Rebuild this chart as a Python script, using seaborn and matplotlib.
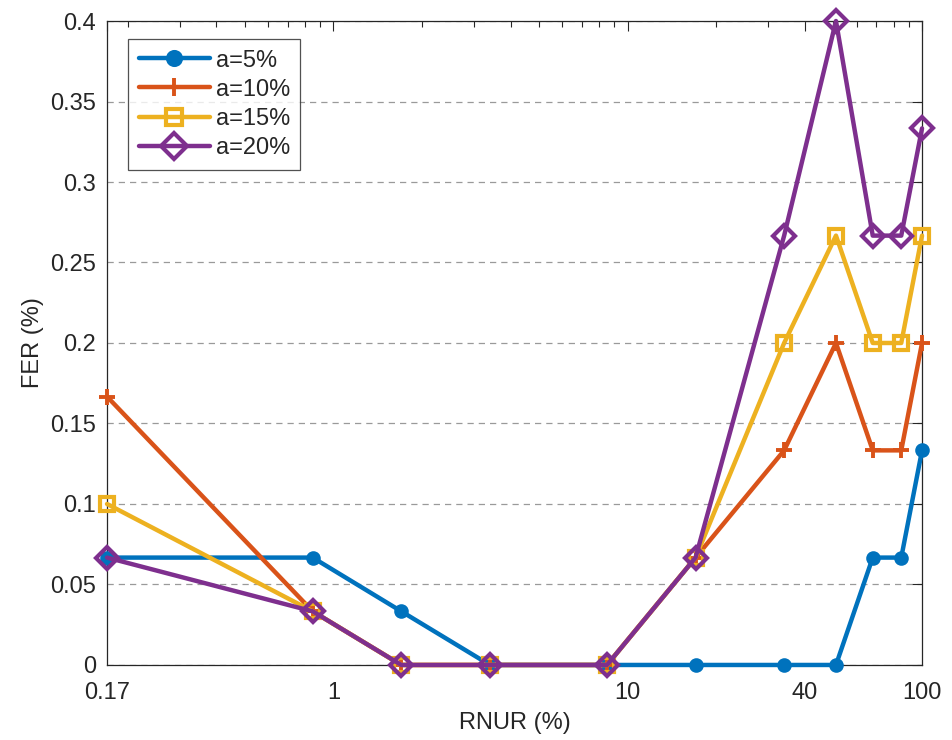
import numpy as np
import pandas as pd
import matplotlib
matplotlib.use("Agg")
import matplotlib.pyplot as plt
import seaborn as sns
from matplotlib.ticker import NullFormatter, FixedLocator

rnur = [0.17, 0.85, 1.7, 3.4, 8.5, 17, 34, 51, 68, 85, 100]
fer_a5 = [0.0667, 0.0667, 0.0333, 0, 0, 0, 0, 0, 0.0667, 0.0667, 0.1333]
fer_a10 = [0.1667, 0.0333, 0, 0, 0, 0.0667, 0.1333, 0.2, 0.1333, 0.1333, 0.2]
fer_a15 = [0.1, 0.0333, 0, 0, 0, 0.0667, 0.2, 0.2667, 0.2, 0.2, 0.2667]
fer_a20 = [0.0667, 0.0333, 0, 0, 0, 0.0667, 0.2667, 0.4, 0.2667, 0.2667, 0.3333]
labels = ["a=5%", "a=10%", "a=15%", "a=20%"]
xtick_vals = [0.17, 1, 10, 40, 100]
xtick_labels = ["0.17", "1", "10", "40", "100"]
ytick_vals = [0, 0.05, 0.1, 0.15, 0.2, 0.25, 0.3, 0.35, 0.4]
ytick_labels = ["0", "0.05", "0.1", "0.15", "0.2", "0.25", "0.3", "0.35", "0.4"]

sns.set_style("white")
plt.rcParams['font.family'] = ['Liberation Sans', 'DejaVu Sans']

colors = ["#0072BD", "#D95319", "#EDB120", "#7E2F8E"]
styles = [
    dict(marker='o', markersize=9, markerfacecolor=colors[0], markeredgewidth=1.5),
    dict(marker='+', markersize=11, markeredgewidth=2.8),
    dict(marker='s', markersize=10, markerfacecolor='none', markeredgewidth=3),
    dict(marker='D', markersize=11, markerfacecolor='none', markeredgewidth=3),
]

fig = plt.figure(figsize=(9.53, 7.4), dpi=100)
ax = fig.add_axes([0.1123, 0.1014, 0.8552, 0.8702])

for vals, lab, col, st in zip([fer_a5, fer_a10, fer_a15, fer_a20], labels, colors, styles):
    df = pd.DataFrame({"RNUR": rnur, "FER": vals})
    sns.lineplot(data=df, x="RNUR", y="FER", ax=ax, color=col, linewidth=3.2,
                 label=lab, markeredgecolor=col, clip_on=False, zorder=3, **st)

ax.set_xscale('log')
ax.set_xlim(0.17, 100)
ax.set_ylim(0, 0.4)
ax.xaxis.set_major_locator(FixedLocator(xtick_vals))
ax.set_xticklabels(xtick_labels)
ax.xaxis.set_minor_formatter(NullFormatter())
ax.set_yticks(ytick_vals)
ax.set_yticklabels(ytick_labels)

ax.tick_params(which='both', direction='in', top=True, right=True,
               labelsize=17, colors='#262626')
ax.tick_params(axis='x', pad=12)
ax.tick_params(axis='y', pad=8)
ax.tick_params(which='major', length=7, width=0.8)
ax.tick_params(which='minor', length=4, width=0.8)
ax.yaxis.grid(True, linestyle=(0, (5, 4)), color='#9a9a9a', linewidth=0.9)
ax.set_axisbelow(True)
for s in ax.spines.values():
    s.set_color('#262626')
    s.set_linewidth(0.9)

ax.set_xlabel("RNUR (%)", fontsize=17, color='#262626', labelpad=6)
ax.set_ylabel("FER (%)", fontsize=17, color='#262626', labelpad=4)

leg = ax.legend(loc='upper left', bbox_to_anchor=(0.026, 0.972), borderaxespad=0,
                fontsize=17, frameon=True, fancybox=False, edgecolor='#262626',
                handlelength=3.0, borderpad=0.45, labelspacing=0.3,
                handletextpad=0.25, markerscale=1.2)
leg.get_frame().set_linewidth(0.9)
leg.set_zorder(5)

fig.savefig("out.png", dpi=100)
